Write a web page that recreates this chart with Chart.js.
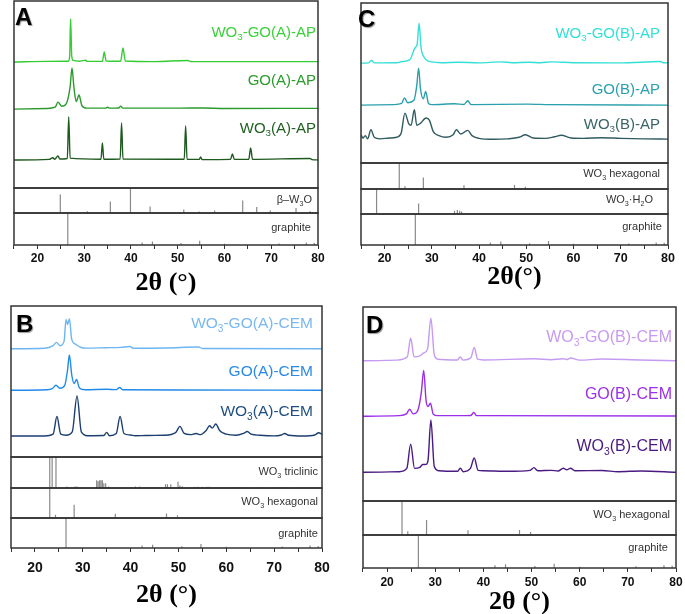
<!DOCTYPE html>
<html>
<head>
<meta charset="utf-8">
<script src="https://cdn.jsdelivr.net/npm/chart.js@4"></script>
<style>
body { margin: 0; background: #fff; }
#fig { position: relative; width: 685px; height: 614px; overflow: hidden; font-family: Arial, "Liberation Sans", sans-serif; }
canvas { position: absolute; }
.lbl { position: absolute; white-space: nowrap; line-height: 1; }
.lbl sub, .ref sub { font-size: 0.65em; vertical-align: -0.35em; line-height: 0; }
.ref { position: absolute; white-space: nowrap; line-height: 1; font-size: 11px; color: #333; }
.letter { position: absolute; font-weight: bold; font-size: 24px; line-height: 1; color: #000; text-shadow: 1px 1px 1px #999; }
</style>
</head>
<body>
<div id="fig">
  <div class="letter" style="left:15px;top:5px">A</div>
  <div class="letter" style="left:358px;top:7px">C</div>
  <div class="letter" style="left:16px;top:312px">B</div>
  <div class="letter" style="left:366px;top:313px">D</div>

  <div class="lbl" style="right:369px;top:24px;font-size:15px;color:#3ad13a">WO<sub>3</sub>-GO(A)-AP</div>
  <div class="lbl" style="right:369px;top:72px;font-size:15px;color:#2b9b2b">GO(A)-AP</div>
  <div class="lbl" style="right:369px;top:120px;font-size:15px;color:#1f5f1f">WO<sub>3</sub>(A)-AP</div>

  <div class="lbl" style="right:25px;top:25px;font-size:15px;color:#33e0d6">WO<sub>3</sub>-GO(B)-AP</div>
  <div class="lbl" style="right:25px;top:81px;font-size:15px;color:#2aa0ad">GO(B)-AP</div>
  <div class="lbl" style="right:25px;top:116px;font-size:15px;color:#3a6468">WO<sub>3</sub>(B)-AP</div>

  <div class="lbl" style="right:372px;top:315px;font-size:15.5px;color:#7ab8f0">WO<sub>3</sub>-GO(A)-CEM</div>
  <div class="lbl" style="right:372px;top:363px;font-size:15.5px;color:#2a8ae6">GO(A)-CEM</div>
  <div class="lbl" style="right:372px;top:403px;font-size:15.5px;color:#1f4f80">WO<sub>3</sub>(A)-CEM</div>

  <div class="lbl" style="right:13px;top:329px;font-size:16px;color:#c89af0">WO<sub>3</sub>-GO(B)-CEM</div>
  <div class="lbl" style="right:13px;top:386px;font-size:16px;color:#9b30e8">GO(B)-CEM</div>
  <div class="lbl" style="right:13px;top:438px;font-size:16px;color:#4a1a80">WO<sub>3</sub>(B)-CEM</div>

  <div class="ref" style="right:373px;top:194px">β–W<sub>3</sub>O</div>
  <div class="ref" style="right:374px;top:222px">graphite</div>
  <div class="ref" style="right:25px;top:168px">WO<sub>3</sub> hexagonal</div>
  <div class="ref" style="right:32px;top:194px">WO<sub>3</sub>·H<sub>2</sub>O</div>
  <div class="ref" style="right:23px;top:221px">graphite</div>
  <div class="ref" style="right:367px;top:466px">WO<sub>3</sub> triclinic</div>
  <div class="ref" style="right:367px;top:496px">WO<sub>3</sub> hexagonal</div>
  <div class="ref" style="right:367px;top:528px">graphite</div>
  <div class="ref" style="right:15px;top:509px">WO<sub>3</sub> hexagonal</div>
  <div class="ref" style="right:17px;top:542px">graphite</div>
</div>
<script>
// Measured patterns: [2theta, intensity above own baseline] (a.u., main box = 0..100)
const wo3GoA_AP = [[15,0],[22,0.3],[26.6,0.4],[26.9,3],[27.1,23],[27.35,3],[27.7,0.8],[29,0.4],[30.3,1],[30.6,0.3],[33.9,0.3],[34.3,5.3],[34.7,0.5],[37.8,0.4],[38.3,7.5],[38.8,0.5],[45,0.2],[52.1,0.8],[53,0.2],[65,0.2],[80,0.2]];
const goA_AP = [[15,0],[22,0.3],[23.8,1],[24.4,3.7],[25.2,1.5],[26.2,3],[27.0,12],[27.4,22],[27.8,12],[28.3,4],[28.9,7.5],[29.5,2],[30.5,0.5],[34.6,0.5],[35.0,1],[35.4,0.5],[37.4,0.6],[37.8,1.6],[38.3,0.5],[50.5,0.5],[55.5,0.6],[60,0.3],[80,0.4]];
const wo3A_AP = [[15,0],[22.5,0.3],[23.3,1.2],[23.7,0.4],[24.4,2.1],[24.8,0.5],[26.4,0.8],[26.7,23],[27.0,1],[33.6,0.4],[33.9,9.1],[34.2,0.4],[37.7,0.5],[38.0,19.8],[38.3,0.5],[51.4,0.4],[51.7,18.2],[52.0,0.4],[54.6,0.3],[54.9,1.6],[55.2,0.2],[61.3,0.3],[61.7,3.2],[62.1,0.3],[65.2,0.4],[65.6,6.4],[66.0,0.3],[78.3,0.8],[78.7,0.2],[80,0]];

const wo3GoB_AP = [[15,0],[16.6,0.2],[17.2,1.7],[17.8,0.2],[22.5,0.3],[23.7,1],[25.3,2],[26.4,9.4],[26.9,12],[27.3,25],[27.7,10],[28.3,4],[29.9,0.8],[32,0.3],[35.6,0.6],[40,0.2],[44.6,0.8],[47,0.3],[50.5,0.6],[53,0.3],[55.3,0.8],[60,0.3],[70,0.2],[78.4,1],[79,0.3],[80,0.2]];
const goB_AP = [[15,0],[22,0.3],[23.6,1],[24.2,4.4],[24.9,1.5],[26.2,3],[26.8,12],[27.2,23],[27.6,10],[28.2,4],[28.7,8.5],[29.3,1],[30,0.3],[34.8,0.8],[36.8,0.4],[37.6,2.7],[38.3,0.3],[50.3,0.6],[55,0.3],[80,0]];
const wo3B_AP = [[15,3],[15.4,1],[15.9,2.5],[16.4,0.5],[17.1,6.2],[17.8,1.5],[19,0.5],[21,1],[22.5,1.5],[23.5,4],[24.3,16.6],[25.1,10],[25.6,9],[26.3,18.7],[26.8,9],[27.5,10],[28.8,13.5],[29.5,12],[30.3,5],[31.5,2.5],[33,1.5],[34.5,3],[35.2,6.2],[36.1,3.5],[37.6,5.8],[38.5,2.5],[40,0.8],[43,0.2],[46,0.5],[48.5,1.5],[49.8,3.1],[51.5,1],[54,0.8],[56,1.8],[57.4,2.7],[59.5,1],[62,0.8],[66,1.2],[70,0.8],[75,0.5],[80,0.3]];

const wo3GoA_CEM = [[15,0],[22,0.3],[23.8,2],[24.5,4.2],[25.3,2],[26.1,5],[26.5,19.4],[26.85,16],[27.2,19.9],[27.7,6],[28.5,3],[29.5,1],[31,0.4],[34.8,0.7],[37.9,0.9],[39.9,1.5],[40.5,0.3],[47.5,0.5],[54.2,1.1],[55,0.2],[80,0]];
const goA_CEM = [[15,0],[22.5,0.3],[23.7,1.2],[24.4,3.3],[25.2,1.3],[26.2,3],[26.8,13],[27.2,23.4],[27.7,10],[28.2,4.5],[28.7,7.1],[29.3,1.5],[30.5,0.3],[35,0.7],[37,0.4],[37.7,1.8],[38.4,0.3],[50,0.2],[80,0]];
const wo3A_CEM = [[15,0.3],[22,0.3],[23.8,1.5],[24.6,13.2],[25.4,1.5],[26.5,0.8],[27.8,3],[28.8,26.8],[29.7,3],[31,0.5],[34.4,0.6],[35.0,2.7],[35.6,0.5],[37,2],[37.8,13.2],[38.6,2],[39.9,1],[41,0.5],[43,0.6],[45,0.7],[47,0.8],[49.4,2.5],[50.3,6.7],[51.2,2],[52.5,1.2],[53.7,2],[54.6,1.2],[55.8,4],[56.5,7.1],[57.1,5.5],[57.8,8.3],[58.6,4],[60,1.5],[62,0.8],[63.6,2],[64.4,3.3],[65.2,1.5],[67,0.8],[70,0.4],[71.5,1],[72.2,2],[73,0.8],[76,0.3],[78.5,1],[79.3,2.5],[80,1.5]];

const wo3GoB_CEM = [[15,0.5],[15.3,0],[22,0.3],[24.2,2],[24.9,11.7],[25.6,2],[26.8,2.5],[27.6,4],[28.4,6],[29.1,21.9],[29.8,3],[30.5,0.8],[34.6,0.4],[35.2,1.9],[35.8,0.3],[37.4,1.5],[38.1,6.9],[38.8,0.8],[40,0.4],[50.5,1],[54,0.5],[56.6,1],[57.3,0.6],[58.1,1.4],[60,0.3],[64.6,0.9],[72.5,0.4],[80,0]];
const goB_CEM = [[15,0],[22.5,0.3],[24.0,1.2],[24.7,3.6],[25.4,1.2],[26.3,2.5],[27.1,12],[27.6,23.6],[28.1,8],[28.5,5],[29.0,6.7],[29.6,1],[30.5,0.3],[35,0.3],[37.4,0.4],[38.0,1.9],[38.6,0.3],[80,0.1]];
const wo3B_CEM = [[15,0],[22.5,0.3],[24.1,2],[24.9,14.5],[25.7,2],[26.8,2.5],[27.4,4],[28.1,4.1],[28.5,6],[29.1,27],[29.8,3],[30.8,0.8],[34.6,0.5],[35.2,2.1],[35.8,0.3],[37.3,2],[38.1,7.4],[38.9,1],[40,0.8],[45,0.5],[49.7,1],[50.5,2.4],[51.3,0.8],[54.1,1],[55.5,0.7],[56.6,2.1],[57.3,1.3],[58.1,2.1],[59,0.8],[64.6,0.9],[68,0.3],[72.7,0.7],[80,0]];

// Baselines of the stacked traces (bottom, middle, top)
const offsetsA = [15.0, 42.2, 67.4];
const offsetsC = [14.6, 36.2, 62.4];
const offsetsB = [13.6, 44.2, 71.7];
const offsetsD = [14.8, 43.7, 72.3];

// Reference stick patterns (2theta, relative intensity %)
const w3oPos = [24.9, 30.7, 35.6, 39.9, 44.1, 51.3, 54.6, 57.9, 61.0, 63.9, 66.9, 69.8, 75.3, 78.3];
const w3oInt = [74, 7, 46, 100, 26, 14, 6, 10, 4, 50, 24, 10, 20, 7];
const graphitePos = [26.5, 42.4, 44.6, 50.7, 54.7, 60.0, 71.7, 77.5, 79.2];
const graphiteInt = [100, 8, 11, 6, 13, 4, 5, 8, 7];
const hexPos = [23.1, 24.3, 26.8, 28.2, 33.8, 36.8, 47.5, 49.8, 55.7, 56.3, 58.2];
const hexInt = [100, 11, 3, 44, 3, 14, 15, 9, 3, 3, 2];
const hydratePos = [18.3, 25.0, 27.2, 31.9, 34.8, 35.4, 35.9, 36.3, 38.9, 39.2, 39.8, 44.5, 51.5, 59.0];
const hydrateInt = [100, 3, 42, 4, 13, 16, 13, 10, 3, 3, 3, 2, 4, 2];
const triPos = [23.1, 23.6, 24.4, 26.7, 28.4, 28.8, 32.9, 33.2, 33.5, 33.8, 34.1, 34.4, 34.8, 35.4, 41.0, 41.9, 43.3, 44.5, 45.4, 47.3, 47.7, 48.4, 49.9, 50.3, 50.8, 53.4, 54.1, 55.0, 55.9, 56.4, 58.6, 60.0, 61.5, 62.3, 63.5, 67.4, 69.8, 72.5, 74.7, 77.2, 78.7];
const triInt = [100, 100, 100, 5, 5, 5, 25, 22, 25, 25, 25, 15, 15, 5, 5, 5, 3, 3, 3, 12, 12, 12, 20, 8, 6, 4, 4, 4, 4, 4, 3, 3, 3, 3, 3, 3, 3, 3, 3, 3, 3];

const xTicksStep = 5;

const boxPlugin = {
    id: 'boxes',
    afterDatasetsDraw(chart) {
        const { ctx, chartArea } = chart;
        ctx.save();
        ctx.strokeStyle = '#333';
        ctx.lineWidth = 1.5;
        Object.values(chart.scales).filter(s => s.axis === 'y').forEach(s => {
            ctx.strokeRect(chartArea.left, s.top, chartArea.right - chartArea.left, s.bottom - s.top);
        });
        ctx.restore();
    }
};

function traceSet(points, offset, color) {
    return {
        data: points.map(p => ({ x: p[0], y: p[1] + offset })),
        yAxisID: 'y',
        borderColor: color,
        borderWidth: 1.4,
        pointRadius: 0,
        cubicInterpolationMode: 'monotone'
    };
}

function stickSet(pos, ints, axisId) {
    const data = [];
    pos.forEach((p, i) => {
        data.push({ x: p, y: 0 }, { x: p, y: ints[i] }, { x: p, y: null });
    });
    return { data, yAxisID: axisId, borderColor: '#8a8a8a', borderWidth: 1.2, pointRadius: 0, spanGaps: false };
}

function buildPanel(cfg) {
    const padL = 4, padR = 14, padT = 1;
    const w = cfg.right - cfg.left + padL + padR;
    const h = cfg.bottom - cfg.top + padT + cfg.axisH;
    const fig = document.getElementById('fig');
    const canvas = document.createElement('canvas');
    canvas.width = w;
    canvas.height = h;
    canvas.style.left = (cfg.left - padL) + 'px';
    canvas.style.top = (cfg.top - padT) + 'px';
    canvas.style.width = w + 'px';
    canvas.style.height = h + 'px';
    fig.insertBefore(canvas, fig.firstChild);

    const yBase = { type: 'linear', position: 'left', stack: 'panel', min: 0, max: 100,
        ticks: { display: false }, grid: { display: false }, border: { display: false } };

    const scales = {
        x: {
            type: 'linear', min: 15, max: 80, offset: false,
            ticks: {
                stepSize: xTicksStep, autoSkip: false, maxRotation: 0, padding: cfg.tickPad, color: '#111',
                font: { family: 'Arial, "Liberation Sans", sans-serif', weight: 'bold', size: cfg.tickSize },
                callback: v => v % 10 === 0 ? v : ''
            },
            grid: { drawOnChartArea: false, drawTicks: true, tickLength: 4, tickColor: '#333' },
            border: { display: false },
            title: {
                display: true, text: cfg.title, padding: 0, color: '#000',
                font: { family: '"Liberation Serif", "Times New Roman", serif', weight: 'bold', size: 26, lineHeight: 1 }
            },
            afterFit: s => { s.height = cfg.axisH; s.paddingLeft = 0; s.paddingRight = 0; }
        }
    };

    const datasets = cfg.traces.map((t, i) => traceSet(t, cfg.offsets[i], cfg.colors[i]));
    // left-stacked scales are laid out in reverse order, so add the lowest box first
    for (let i = cfg.refs.length - 1; i >= 0; i--) {
        const id = 'y' + (i + 1);
        scales[id] = { ...yBase, stackWeight: cfg.weights[i + 1] };
        datasets.push(stickSet(cfg.refs[i][0], cfg.refs[i][1], id));
    }
    scales.y = { ...yBase, stackWeight: cfg.weights[0] };

    new Chart(canvas, {
        type: 'line',
        data: { datasets },
        options: {
            responsive: false,
            animation: false,
            layout: { padding: { left: padL, right: padR, top: padT, bottom: 0 } },
            plugins: { legend: { display: false }, tooltip: { enabled: false } },
            scales
        },
        plugins: [boxPlugin]
    });
}

buildPanel({
    left: 6, right: 318, top: 1, bottom: 245, axisH: 51, tickSize: 12, tickPad: 2, title: '2θ (°)',
    weights: [187, 25, 32],
    traces: [wo3A_AP, goA_AP, wo3GoA_AP], offsets: offsetsA,
    colors: ['#1e5a1e', '#2a9a2a', '#33cc33'],
    refs: [[w3oPos, w3oInt], [graphitePos, graphiteInt]]
});

buildPanel({
    left: 353, right: 668, top: 3, bottom: 245, axisH: 45, tickSize: 12.5, tickPad: 2, title: '2θ(°)',
    weights: [160, 26, 25, 31],
    traces: [wo3B_AP, goB_AP, wo3GoB_AP], offsets: offsetsC,
    colors: ['#2f5a60', '#2aa0ad', '#33e0d6'],
    refs: [[hexPos, hexInt], [hydratePos, hydrateInt], [graphitePos, graphiteInt]]
});

buildPanel({
    left: 3, right: 322, top: 306, bottom: 548, axisH: 60, tickSize: 14, tickPad: 8, title: '2θ (°)',
    weights: [151, 31, 30, 30],
    traces: [wo3A_CEM, goA_CEM, wo3GoA_CEM], offsets: offsetsB,
    colors: ['#1d3f70', '#1f8ae8', '#6db6f2'],
    refs: [[triPos, triInt], [hexPos, hexInt], [graphitePos, graphiteInt]]
});

buildPanel({
    left: 355, right: 676, top: 307, bottom: 568, axisH: 47, tickSize: 12, tickPad: 3, title: '2θ (°)',
    weights: [194, 34, 33],
    traces: [wo3B_CEM, goB_CEM, wo3GoB_CEM], offsets: offsetsD,
    colors: ['#4a1a82', '#9a2fea', '#c59bf2'],
    refs: [[hexPos, hexInt], [graphitePos, graphiteInt]]
});
</script>
</body>
</html>
